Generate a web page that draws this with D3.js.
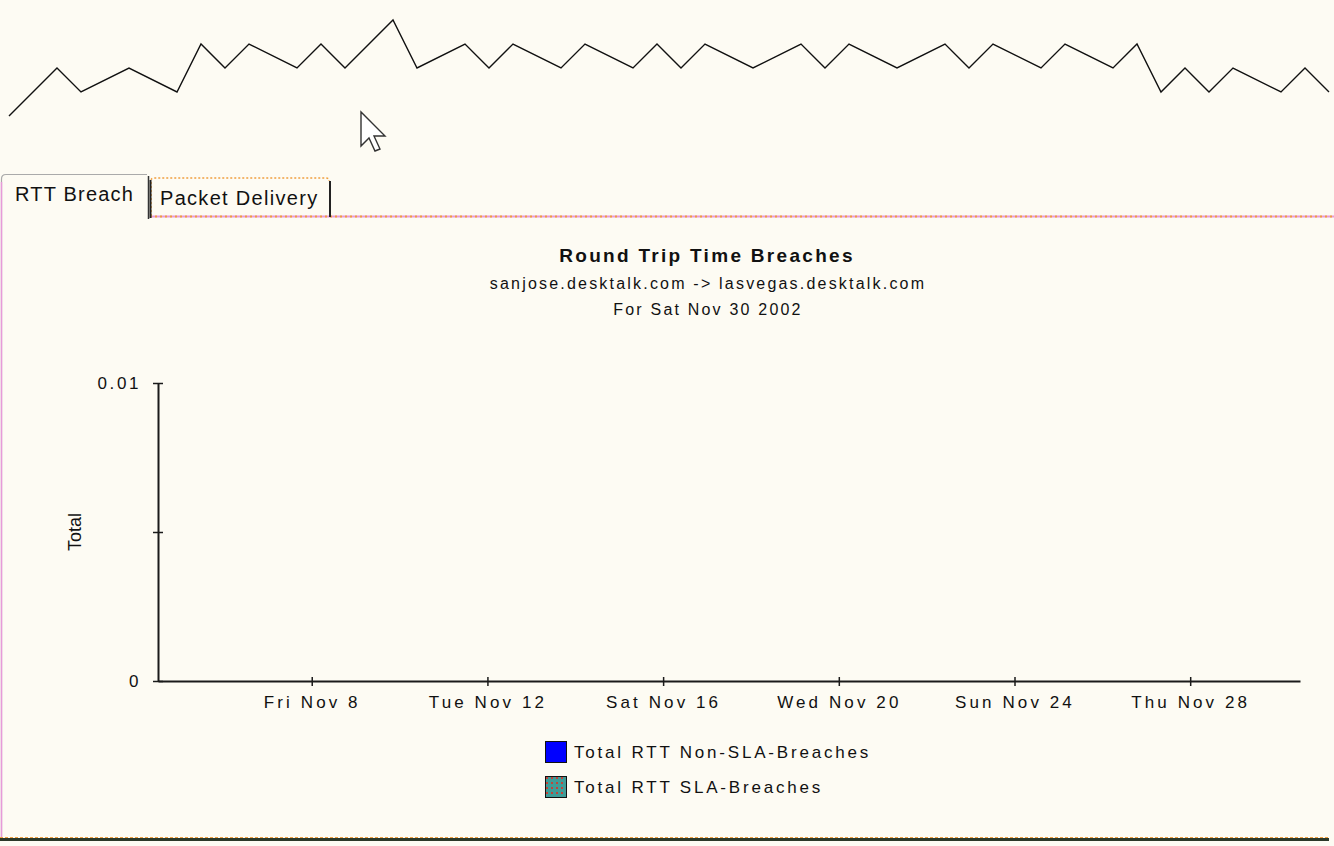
<!DOCTYPE html>
<html>
<head>
<meta charset="utf-8">
<script src="https://cdn.jsdelivr.net/npm/d3@7"></script>
<style>
  body { margin: 0; background: #fdfbf3; }
  svg { display: block; }
  text { font-family: "Liberation Sans", Arial, sans-serif; fill: #111; }
</style>
</head>
<body>
<svg width="1334" height="846"></svg>
<script>
// zigzag strip at the top of the page: step index and level
var zigStep = [0,2,3,5,7,8,9,10,12,13,14,16,17,19,20,21,23,24,26,27,28,29,31,33,34,35,37,39,40,41,43,44,46,47,48,49,50,51,53,54,55];
var zigLevel = [0,2,1,2,1,3,2,3,2,3,2,4,2,3,2,3,2,3,2,3,2,3,2,3,2,3,2,3,2,3,2,3,2,3,1,2,1,2,1,2,1];

// chart data (nothing recorded for the period, so every value is 0)
var days = ["2002-11-05","2002-11-06","2002-11-07","2002-11-08","2002-11-09","2002-11-10","2002-11-11",
            "2002-11-12","2002-11-13","2002-11-14","2002-11-15","2002-11-16","2002-11-17","2002-11-18",
            "2002-11-19","2002-11-20","2002-11-21","2002-11-22","2002-11-23","2002-11-24","2002-11-25",
            "2002-11-26","2002-11-27","2002-11-28","2002-11-29","2002-11-30"];
var nonSla = [0,0,0,0,0,0,0,0,0,0,0,0,0,0,0,0,0,0,0,0,0,0,0,0,0,0];
var sla    = [0,0,0,0,0,0,0,0,0,0,0,0,0,0,0,0,0,0,0,0,0,0,0,0,0,0];
var seriesNames = ["Total RTT Non-SLA-Breaches", "Total RTT SLA-Breaches"];
var xTicks = ["2002-11-08","2002-11-12","2002-11-16","2002-11-20","2002-11-24","2002-11-28"];
var yTicks = [0, 0.005, 0.01];
var yTickLabels = ["0", "", "0.01"];
var xDomain = ["2002-11-04T12:00Z", "2002-11-30T12:00Z"];

var svg = d3.select("svg");
var parse = d3.utcParse("%Y-%m-%d");

svg.append("rect").attr("width", 1334).attr("height", 846).attr("fill", "#fdfbf3");

// pattern for SLA breaches
var defs = svg.append("defs");
var pat = defs.append("pattern").attr("id", "slaPat").attr("patternUnits", "userSpaceOnUse")
  .attr("width", 5).attr("height", 5);
pat.append("rect").attr("width", 5).attr("height", 5).attr("fill", "#3f9c98");
pat.append("rect").attr("x", 1).attr("y", 1).attr("width", 2).attr("height", 2).attr("fill", "#c0443a");

// top zigzag
var zx = d3.scaleLinear().domain([0, 55]).range([9, 1329]);
var zy = d3.scaleLinear().domain([0, 4]).range([116, 20]);
svg.append("path")
  .datum(zigStep.map((s, i) => [s, zigLevel[i]]))
  .attr("fill", "none").attr("stroke", "#111").attr("stroke-width", 1.4)
  .attr("d", d3.line().x(d => zx(d[0])).y(d => zy(d[1])));

// mouse pointer
svg.append("path")
  .attr("transform", "translate(361,112) scale(2)")
  .attr("d", "M0,0 L0,17 L4,13 L7,19.5 L9.5,18.5 L6.5,12 L12,12 Z")
  .attr("fill", "#fff").attr("stroke", "#333").attr("stroke-width", 0.7);

// tabs and panel
var orange = "#f0a040", pink = "#e79ad9";
svg.append("line").attr("x1", 150).attr("x2", 1334).attr("y1", 216.5).attr("y2", 216.5)
  .attr("stroke", pink).attr("stroke-width", 2);
svg.append("line").attr("x1", 150).attr("x2", 1334).attr("y1", 216.5).attr("y2", 216.5)
  .attr("stroke", orange).attr("stroke-width", 2).attr("stroke-dasharray", "2,3");
// packet delivery tab
svg.append("path").attr("d", "M151,216 L151,181 Q151,178 154,178 L326,178 Q329,178 329,181")
  .attr("fill", "none").attr("stroke", orange).attr("stroke-width", 1.5).attr("stroke-dasharray", "2,2");
svg.append("line").attr("x1", 150.5).attr("x2", 150.5).attr("y1", 180).attr("y2", 218)
  .attr("stroke", "#222").attr("stroke-width", 2);
svg.append("line").attr("x1", 330).attr("x2", 330).attr("y1", 181).attr("y2", 217)
  .attr("stroke", "#222").attr("stroke-width", 2);
// active tab
svg.append("path").attr("d", "M1.5,838 L1.5,179 Q1.5,174.5 6,174.5 L147,174.5")
  .attr("fill", "none").attr("stroke", "#aaa").attr("stroke-width", 1.2);
svg.append("line").attr("x1", 1.5).attr("x2", 1.5).attr("y1", 182).attr("y2", 838)
  .attr("stroke", pink).attr("stroke-width", 1.5);
svg.append("line").attr("x1", 148.5).attr("x2", 148.5).attr("y1", 176).attr("y2", 219)
  .attr("stroke", "#333").attr("stroke-width", 1.5);
svg.append("text").attr("x", 15).attr("y", 201).style("font-size", "20px")
  .style("letter-spacing", "1.2px").text("RTT Breach");
svg.append("text").attr("x", 160).attr("y", 205).style("font-size", "20px")
  .style("letter-spacing", "1.3px").text("Packet Delivery");
// panel bottom
svg.append("line").attr("x1", 0).attr("x2", 1329).attr("y1", 839.5).attr("y2", 839.5)
  .attr("stroke", "#2c3829").attr("stroke-width", 3);
svg.append("line").attr("x1", 0).attr("x2", 1329).attr("y1", 837.5).attr("y2", 837.5)
  .attr("stroke", orange).attr("stroke-width", 1).attr("stroke-dasharray", "3,2");

// titles
svg.append("text").attr("x", 707).attr("y", 262).attr("text-anchor", "middle")
  .style("font-size", "19px").style("font-weight", "bold").style("letter-spacing", "2.3px")
  .text("Round Trip Time Breaches");
svg.append("text").attr("x", 708).attr("y", 289).attr("text-anchor", "middle")
  .style("font-size", "16px").style("letter-spacing", "2.2px")
  .text("sanjose.desktalk.com -> lasvegas.desktalk.com");
svg.append("text").attr("x", 708).attr("y", 315).attr("text-anchor", "middle")
  .style("font-size", "16px").style("letter-spacing", "2.2px")
  .text("For Sat Nov 30 2002");

// scales
var x = d3.scaleUtc().domain(xDomain.map(d => new Date(d))).range([158, 1300]);
var y = d3.scaleLinear().domain([0, 0.01]).range([681, 383]);

// stacked bars (all zero height)
var rows = days.map((d, i) => ({date: parse(d), nonSla: nonSla[i], sla: sla[i]}));
var stack = d3.stack().keys(["nonSla", "sla"])(rows);
var fills = ["#0000ff", "url(#slaPat)"];
var bw = x(parse("2002-11-06")) - x(parse("2002-11-05"));
svg.append("g").selectAll("g").data(stack).enter().append("g")
  .attr("fill", (d, i) => fills[i])
  .selectAll("rect").data(d => d).enter().append("rect")
  .attr("x", d => x(d.data.date) - bw * 0.35)
  .attr("width", bw * 0.7)
  .attr("y", d => y(d[1]))
  .attr("height", d => y(d[0]) - y(d[1]));

// axes
var xAxis = svg.append("g").attr("transform", "translate(0,681)")
  .call(d3.axisBottom(x).tickValues(xTicks.map(parse))
    .tickFormat(d3.utcFormat("%a %b %-d")).tickSize(5).tickPadding(10).tickSizeOuter(0));
xAxis.select(".domain").attr("stroke", "#1a1a1a").attr("stroke-width", 2);
xAxis.selectAll(".tick line").attr("y1", -4).attr("stroke", "#1a1a1a").attr("stroke-width", 1.5);
xAxis.selectAll(".tick text").attr("fill", "#111").style("font-size", "17px")
  .style("letter-spacing", "3.1px").style("font-family", "\"Liberation Sans\", Arial, sans-serif");

var yAxis = svg.append("g").attr("transform", "translate(158,0)")
  .call(d3.axisLeft(y).tickValues(yTicks).tickFormat((d, i) => yTickLabels[i])
    .tickSize(5).tickPadding(12).tickSizeOuter(0));
yAxis.select(".domain").attr("stroke", "#1a1a1a").attr("stroke-width", 2);
yAxis.selectAll(".tick line").attr("x1", 5).attr("stroke", "#1a1a1a").attr("stroke-width", 1.5);
yAxis.selectAll(".tick text").attr("fill", "#111").style("font-size", "17px")
  .style("letter-spacing", "2.6px").style("font-family", "\"Liberation Sans\", Arial, sans-serif");

svg.append("text").attr("transform", "translate(81,532) rotate(-90)")
  .attr("text-anchor", "middle").style("font-size", "18px").text("Total");

// legend
var lg = svg.append("g").selectAll("g").data(seriesNames).enter().append("g")
  .attr("transform", (d, i) => "translate(545," + (741 + i * 35) + ")");
lg.append("rect").attr("x", 0.5).attr("y", 0.5).attr("width", 21).attr("height", 21)
  .attr("fill", (d, i) => fills[i]).attr("stroke", "#111").attr("stroke-width", 1);
lg.append("text").attr("x", 29).attr("y", 17).style("font-size", "17px")
  .style("letter-spacing", "2.8px").text(d => d);
</script>
</body>
</html>
